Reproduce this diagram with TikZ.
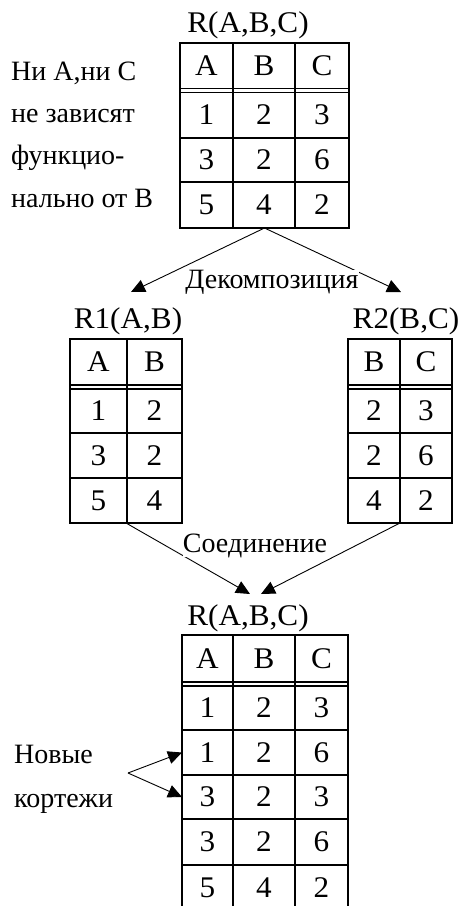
\documentclass[tikz,border=0pt]{standalone}
\usepackage{fontspec}
\setmainfont{Liberation Serif}
\newfontfamily\widefont{Liberation Serif}[FakeStretch=1.04]
\usetikzlibrary{arrows.meta}

\begin{document}
\begin{tikzpicture}[x=1pt,y=-1pt,
  frame/.style={draw,line width=1.4pt,inner sep=0pt,outer sep=0pt},
  gridline/.style={line width=1.4pt},
  ruleline/.style={line width=1.1pt},
  cell/.style={font=\widefont\fontsize{30}{34}\selectfont,inner sep=0pt,anchor=center},
  caption/.style={font=\widefont\fontsize{30}{34}\selectfont,inner sep=0pt,anchor=base},
  note/.style={font=\fontsize{28}{32}\selectfont,inner sep=0pt,anchor=base west},
  midlabel/.style={font=\fontsize{28}{32}\selectfont,inner sep=0pt,anchor=base,fill=white},
  link/.style={line width=0.9pt,-{Triangle[length=14pt,width=13pt]}}]
\useasboundingbox (0,0) rectangle (464,906);

% ---- relation R(A,B,C) ----
\node[caption] (cap0) at (248,32) {R(A,B,C)};
\node[frame,minimum width=169pt,minimum height=185pt] (t0) at (264.5,135.5) {};
\draw[gridline] (233,43) -- (233,228) (295,43) -- (295,228);
\draw[ruleline] (180,88.5) -- (349,88.5) (180,92.5) -- (349,92.5);
\draw[gridline] (180,138) -- (349,138) (180,182) -- (349,182);
\node[cell] (t0-h1) at (206.5,65.5) {A};
\node[cell] (t0-h2) at (264,65.5) {B};
\node[cell] (t0-h3) at (322,65.5) {C};
\foreach \r/\y/\a/\b/\cc in {1/115/1/2/3,2/160/3/2/6,3/205/5/4/2}{
  \node[cell] (t0-\r-1) at (206.5,\y) {\a};
  \node[cell] (t0-\r-2) at (264,\y) {\b};
  \node[cell] (t0-\r-3) at (322,\y) {\cc};
}

% ---- note on the left ----
\node[note] (n1) at (11,80) {Ни А,ни С};
\node[note] (n2) at (11,122) {не зависят};
\node[note] (n3) at (11,164) {функцио-};
\node[note] (n4) at (11,207) {нально от В};

% ---- projections R1(A,B), R2(B,C) ----
\node[caption] (cap1) at (128,328) {R1(A,B)};
\node[frame,minimum width=112pt,minimum height=184pt] (t1) at (126,431) {};
\draw[gridline] (127,339) -- (127,523);
\draw[ruleline] (70,385) -- (182,385) (70,389) -- (182,389);
\draw[gridline] (70,433) -- (182,433) (70,478) -- (182,478);
\node[cell] (t1-h1) at (98.5,362) {A};
\node[cell] (t1-h2) at (154.5,362) {B};
\foreach \r/\y/\a/\b in {1/411/1/2,2/455.5/3/2,3/500.5/5/4}{
  \node[cell] (t1-\r-1) at (98.5,\y) {\a};
  \node[cell] (t1-\r-2) at (154.5,\y) {\b};
}

\node[caption] (cap2) at (406,328) {R2(B,C)};
\node[frame,minimum width=104pt,minimum height=184pt] (t2) at (400,431) {};
\draw[gridline] (400,339) -- (400,523);
\draw[ruleline] (348,385) -- (452,385) (348,389) -- (452,389);
\draw[gridline] (348,433) -- (452,433) (348,478) -- (452,478);
\node[cell] (t2-h1) at (374,362) {B};
\node[cell] (t2-h2) at (426,362) {C};
\foreach \r/\y/\a/\b in {1/411/2/3,2/455.5/2/6,3/500.5/4/2}{
  \node[cell] (t2-\r-1) at (374,\y) {\a};
  \node[cell] (t2-\r-2) at (426,\y) {\b};
}

% ---- decomposition arrows ----
\coordinate (d1) at (131,292);
\coordinate (d2) at (401,292);
\draw[link] (t0.south) -- (d1);
\draw[link] (t0.south) -- (d2);
\node[midlabel] (dec) at (272,288) {Декомпозиция};

% ---- join arrows ----
\coordinate (j1) at (250,594);
\coordinate (j2) at (261,594);
\draw[link] (t1.south) -- (j1);
\draw[link] (t2.south) -- (j2);
\node[midlabel] (join) at (255,552) {Соединение};

% ---- joined relation R(A,B,C) ----
\node[caption] (cap3) at (248,625) {R(A,B,C)};
\node[frame,minimum width=166pt,minimum height=276pt] (t3) at (265,773) {};
\draw[gridline] (233,635) -- (233,911) (295,635) -- (295,911);
\draw[ruleline] (182,682) -- (348,682) (182,686) -- (348,686);
\draw[gridline] (182,730) -- (348,730) (182,775) -- (348,775)
                (182,819) -- (348,819) (182,865) -- (348,865);
\node[cell] (t3-h1) at (207.5,658.5) {A};
\node[cell] (t3-h2) at (264,658.5) {B};
\node[cell] (t3-h3) at (321.5,658.5) {C};
\foreach \r/\y/\a/\b/\cc in {1/707.5/1/2/3,2/752.5/1/2/6,3/797/3/2/3,4/842/3/2/6,5/887.5/5/4/2}{
  \node[cell] (t3-\r-1) at (207.5,\y) {\a};
  \node[cell] (t3-\r-2) at (264,\y) {\b};
  \node[cell] (t3-\r-3) at (321.5,\y) {\cc};
}

% ---- new tuples note ----
\node[note] (new1) at (14,763) {Новые};
\node[note] (new2) at (14,807) {кортежи};
\coordinate (fork) at (128,773);
\draw[link] (fork) -- (t3.west |- t3-2-1);
\draw[link] (fork) -- (t3.west |- t3-3-1);
\end{tikzpicture}
\end{document}
